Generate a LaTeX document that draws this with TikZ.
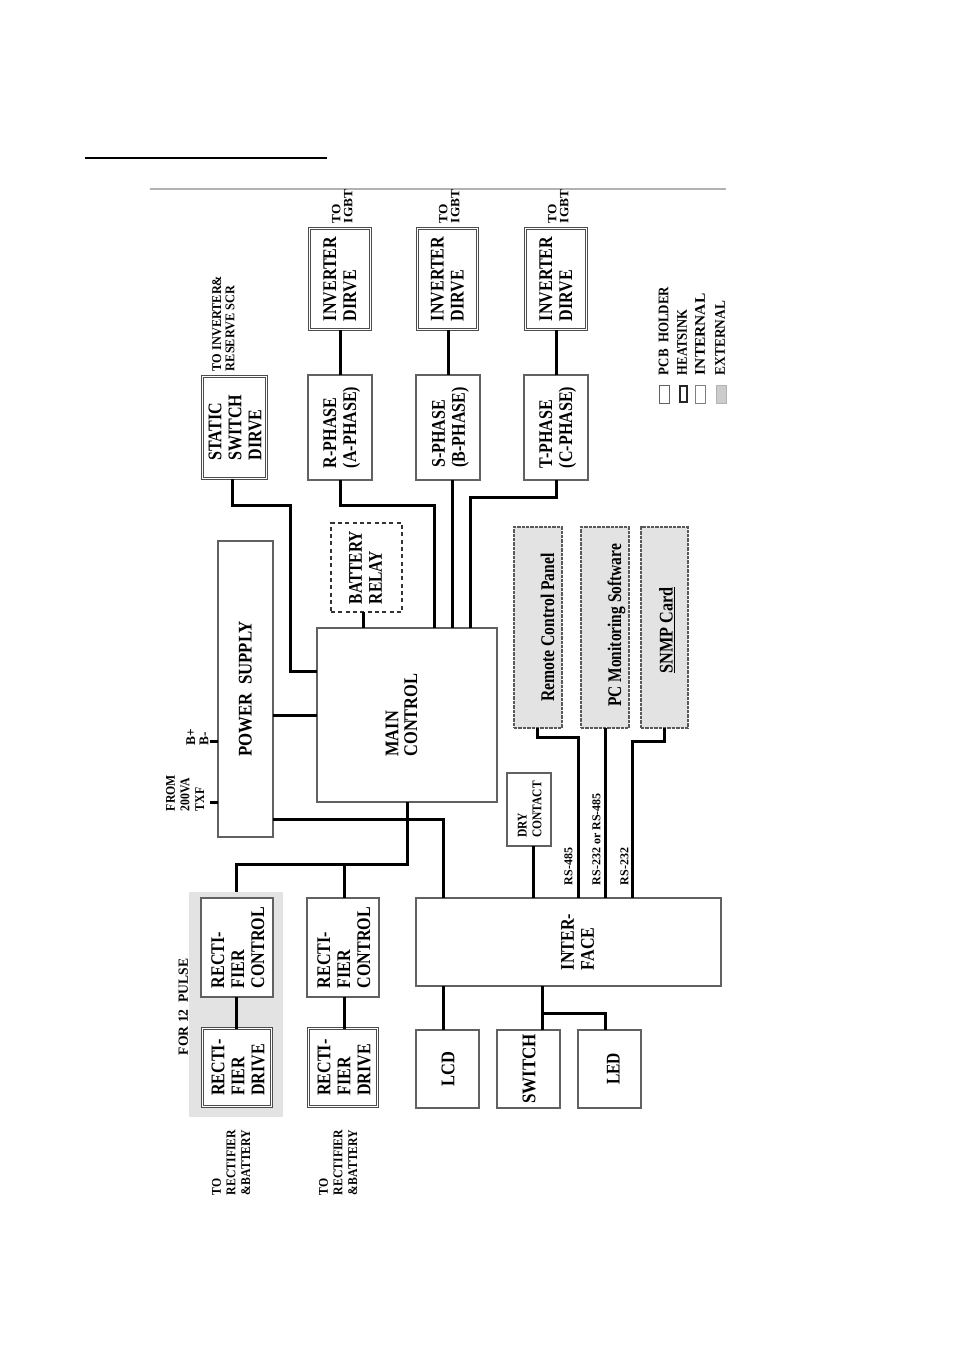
\documentclass[tikz,border=0pt]{standalone}
\usepackage{graphicx}
\usepackage{fontspec}
\setmainfont{Liberation Serif}
\newcommand{\vtxt}[5][0pt]{\rotatebox{90}{\raisebox{#1}[\height][\depth]{\scalebox{#4}[1]{\fontsize{#2}{#3}\selectfont\bfseries\begin{tabular}{@{}l@{}}#5\end{tabular}}}}}
\newcommand{\bigtxt}[2][.83]{\vtxt[-1.5pt]{14.5}{15}{#1}{#2}}
\newcommand{\bigtxtS}[3]{\vtxt[#1]{14.5}{15}{#2}{#3}}
\newcommand{\mybox}[7][plainbox]{\node[#1,minimum width={(#4-#2)*0.75pt},minimum height={(#5-#3)*0.75pt}] (#6) at ({(#2+#4)/2},{(#3+#5)/2}) {#7};}
\begin{document}
\begin{tikzpicture}[x=0.75pt,y=-0.75pt,
  plainbox/.style={draw=black!62,line width=.85pt,fill=white,inner sep=0pt,outer sep=0pt},
  dblbox/.style={plainbox,draw=black!70,line width=.9pt,double=white,double distance=.8pt},
  dashbox/.style={plainbox,draw=black!80,dashed,line width=.9pt,dash pattern=on 3pt off 2.5pt},
  extbox/.style={plainbox,fill=black!11,dashed,draw=black!65,line width=1pt,dash pattern=on 2.5pt off .8pt},
  shade12/.style={fill=black!11,draw=none,inner sep=0pt,outer sep=0pt},
  legendbox/.style={plainbox,line width=.7pt},
  wire/.style={draw=black,line width=2.25pt,line join=miter},
  lbl/.style={inner sep=0pt,outer sep=0pt,anchor=south}]
\useasboundingbox (0,0) rectangle (954,1349);
\fill[white] (0,0) rectangle (954,1349);
\coordinate (ruleA) at (85,158); \coordinate (ruleB) at (327,158);
\draw[black,line width=1.3pt] (ruleA) -- (ruleB);
\coordinate (topA) at (150,189); \coordinate (topB) at (726,189);
\draw[black!30,line width=.8pt] (topA) -- (topB);
\mybox[shade12]{189}{892}{283}{1117}{pulse}{}
% boxes
\mybox[dblbox]{202.5}{376.5}{266.5}{478.5}{static}{\bigtxtS{-2.2pt}{.83}{STATIC\\SWITCH\\DIRVE}}
\mybox[dblbox]{309.5}{228.5}{370.5}{329.5}{invR}{\bigtxt{INVERTER\\DIRVE}}
\mybox[dblbox]{417.5}{228.5}{477.5}{329.5}{invS}{\bigtxt{INVERTER\\DIRVE}}
\mybox[dblbox]{525.5}{228.5}{586.5}{329.5}{invT}{\bigtxt{INVERTER\\DIRVE}}
\mybox{308}{375}{372}{480}{phR}{\bigtxt{R-PHASE\\(A-PHASE)}}
\mybox{416}{375}{480}{480}{phS}{\bigtxtS{-2.2pt}{.83}{S-PHASE\\(B-PHASE)}}
\mybox{524}{375}{588}{480}{phT}{\bigtxt{T-PHASE\\(C-PHASE)}}
\mybox[dashbox]{331}{523}{402}{612}{relay}{\bigtxtS{-1pt}{.8}{BATTERY\\RELAY}}
\mybox{218}{541}{273}{837}{psu}{\bigtxt[.87]{POWER\ \ SUPPLY}}
\mybox{317}{628}{497}{802}{main}{\vtxt[2.25pt]{14.5}{14}{.85}{MAIN\\CONTROL}}
\mybox[extbox]{514}{527}{562}{728}{rcp}{\bigtxtS{-9pt}{.81}{Remote Control Panel}}
\mybox[extbox]{581}{527}{629}{728}{pcm}{\bigtxtS{-9pt}{.8}{\hspace*{4pt}PC Monitoring Software}}
\mybox[extbox]{641}{527}{688}{728}{snmp}{\bigtxtS{-3pt}{.84}{\underline{SNMP Card}\hspace*{5pt}}}
\mybox{507}{773}{551}{846}{dry}{\vtxt[-1.5pt]{10}{11}{.86}{DRY\\CONTACT}}
\mybox{201}{898}{273}{997}{ctlA}{\bigtxtS{-2.4pt}{.83}{RECTI-\\FIER\\CONTROL}}
\mybox{307}{898}{379}{997}{ctlB}{\bigtxtS{-2.4pt}{.83}{RECTI-\\FIER\\CONTROL}}
\mybox[dblbox]{202.5}{1028.5}{271.5}{1106.5}{drvA}{\bigtxtS{-2.6pt}{.83}{RECTI-\\FIER\\DRIVE}}
\mybox[dblbox]{308.5}{1028.5}{377.5}{1106.5}{drvB}{\bigtxtS{-2.6pt}{.83}{RECTI-\\FIER\\DRIVE}}
\mybox{416}{898}{721}{986}{iface}{\bigtxtS{-8.5pt}{.83}{INTER-\\FACE}}
\mybox{416}{1030}{479}{1108}{lcd}{\bigtxtS{-2.2pt}{.85}{LCD}}
\mybox{497}{1030}{560}{1108}{switch}{\bigtxtS{-2.2pt}{.88}{SWITCH}}
\mybox{578}{1030}{641}{1108}{led}{\bigtxtS{-4.5pt}{.8}{LED}}
% legend
\mybox[legendbox]{659}{385}{669}{403}{lgA}{}
\mybox[legendbox,draw=black!85,line width=1.5pt]{680}{386}{687}{402}{lgB}{}
\mybox[legendbox,draw=black!50]{695}{385}{705}{403}{lgC}{}
\mybox[legendbox,draw=black!30,fill=black!20]{716}{385}{726}{403}{lgD}{}
\node[lbl] (tA) at (665.5,375) {\vtxt{11}{11}{.88}{PCB\ \ HOLDER}};
\node[lbl] (tB) at (684,375) {\vtxt{11}{11}{.86}{HEATSINK}};
\node[lbl] (tC) at (702,375) {\vtxt{11}{11}{1.05}{INTERNAL}};
\node[lbl] (tD) at (722,375) {\vtxt{11}{11}{.91}{EXTERNAL}};
% outer labels
\node[lbl] (lS) at (225,371) {\vtxt{10}{10}{.92}{TO INVERTER\&\\RESERVE SCR}};
\node[lbl] (lR) at (344,223) {\vtxt{9.5}{9}{1.05}{TO\\IGBT}};
\node[lbl] (lG) at (451,223) {\vtxt{9.5}{9}{1.05}{TO\\IGBT}};
\node[lbl] (lT) at (560,223) {\vtxt{9.5}{9}{1.05}{TO\\IGBT}};
\node[lbl] (lB) at (199,745) {\vtxt{10}{10}{1}{B+\\B-}};
\node[lbl] (lF) at (186.5,811) {\vtxt{10}{11}{.88}{FROM\\200VA\\TXF}};
\node[lbl] (lP) at (185,1055) {\vtxt{10.5}{11}{.97}{FOR 12\ \ PULSE}};
\node[lbl] (lrA) at (232.5,1195) {\vtxt{10}{11}{.88}{TO\\RECTIFIER\\\&BATTERY}};
\node[lbl] (lrB) at (339.5,1195) {\vtxt{10}{11}{.88}{TO\\RECTIFIER\\\&BATTERY}};
\node[lbl] (rsA) at (570,885) {\vtxt{9}{9}{1}{RS-485}};
\node[lbl] (rsB) at (598,885) {\vtxt{9}{9}{1}{RS-232 or RS-485}};
\node[lbl] (rsC) at (626,885) {\vtxt{9}{9}{1}{RS-232}};
% connectors
\draw[wire] (invR.south) -- (phR.north);
\draw[wire] (invS.south -| 448,0) -- (phS.north -| 448,0);
\draw[wire] (invT.south) -- (phT.north);
\draw[wire] (static.south -| 232,0) |- (290,505.5) |- (main.west |- 0,671);
\draw[wire] (phR.south) |- (434,505.5) -- (main.north -| 434,0);
\draw[wire] (phS.south -| 452,0) -- (main.north -| 452,0);
\draw[wire] (phT.south) |- (470,497) -- (main.north -| 470,0);
\draw[wire] (relay.south -| 363,0) -- (main.north -| 363,0);
\draw[wire] (psu.east |- 0,715) -- (main.west |- 0,715);
\draw[wire] (psu.east |- 0,819.5) -| (iface.north -| 443,0);
\coordinate (bIn) at (210,741); \coordinate (fIn) at (210,802);
\draw[wire] (bIn) -- (psu.west |- bIn);
\draw[wire] (fIn) -- (psu.west |- fIn);
\draw[wire] (main.south -| 407,0) |- (344,864) -| (pulse.north -| 236,0);
\draw[wire] (ctlB.north -| 344,0) -- (344,864);
\draw[wire] (ctlA.south -| 236,0) -- (drvA.north -| 236,0);
\draw[wire] (ctlB.south -| 344,0) -- (drvB.north -| 344,0);
\draw[wire] (dry.south -| 533,0) -- (iface.north -| 533,0);
\draw[wire] (iface.north -| 578,0) |- (537,737) -- (rcp.south -| 537,0);
\draw[wire] (pcm.south -| 605,0) -- (iface.north -| 605,0);
\draw[wire] (iface.north -| 632,0) |- (664,741) -- (snmp.south -| 664,0);
\draw[wire] (iface.south -| 443,0) -- (lcd.north -| 443,0);
\draw[wire] (iface.south -| 542,0) -- (switch.north -| 542,0);
\draw[wire] (542,1013) -| (led.north -| 605,0);
\end{tikzpicture}
\end{document}
